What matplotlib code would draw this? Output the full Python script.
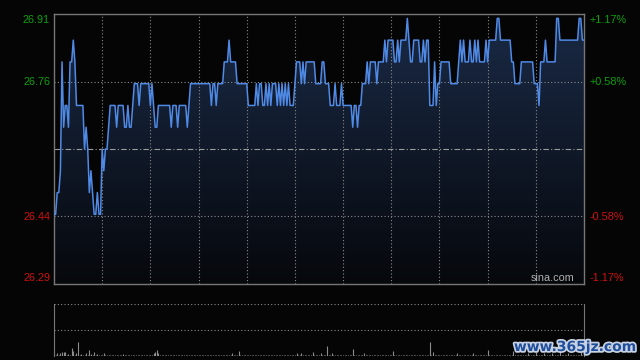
import numpy as np
import matplotlib
matplotlib.use('Agg')
import matplotlib.pyplot as plt
import matplotlib.patheffects as pe
from matplotlib.patches import Polygon
from matplotlib.colors import LinearSegmentedColormap

# intraday minute prices (HK session, 331 minutes)
prices = [
    26.45, 26.45, 26.50, 26.50, 26.55, 26.80, 26.65, 26.70, 26.70, 26.65,
    26.80, 26.80, 26.85, 26.80, 26.70, 26.70, 26.70, 26.70, 26.70, 26.60,
    26.65, 26.60, 26.50, 26.55, 26.50, 26.45, 26.45, 26.50, 26.45, 26.45,
    26.60, 26.55, 26.60, 26.60, 26.65, 26.70, 26.70, 26.70, 26.70, 26.65,
    26.70, 26.70, 26.70, 26.70, 26.65, 26.65, 26.70, 26.65, 26.65, 26.70,
    26.75, 26.75, 26.75, 26.70, 26.75, 26.75, 26.75, 26.75, 26.75, 26.75,
    26.70, 26.75, 26.70, 26.65, 26.65, 26.70, 26.70, 26.70, 26.70, 26.70,
    26.70, 26.70, 26.70, 26.65, 26.70, 26.70, 26.70, 26.65, 26.70, 26.70,
    26.70, 26.70, 26.70, 26.65, 26.70, 26.75, 26.75, 26.75, 26.75, 26.75,
    26.75, 26.75, 26.75, 26.75, 26.75, 26.75, 26.75, 26.75, 26.70, 26.75,
    26.75, 26.70, 26.75, 26.75, 26.75, 26.75, 26.80, 26.80, 26.80, 26.85,
    26.80, 26.80, 26.80, 26.80, 26.75, 26.75, 26.75, 26.75, 26.75, 26.75,
    26.75, 26.70, 26.70, 26.70, 26.70, 26.70, 26.75, 26.70, 26.75, 26.75,
    26.70, 26.70, 26.75, 26.70, 26.75, 26.70, 26.75, 26.75, 26.75, 26.70,
    26.75, 26.70, 26.75, 26.70, 26.75, 26.70, 26.75, 26.70, 26.70, 26.70,
    26.75, 26.80, 26.80, 26.80, 26.75, 26.80, 26.75, 26.80, 26.80, 26.80,
    26.80, 26.80, 26.80, 26.75, 26.75, 26.75, 26.75, 26.80, 26.80, 26.75,
    26.75, 26.75, 26.70, 26.70, 26.70, 26.75, 26.70, 26.70, 26.70, 26.75,
    26.70, 26.70, 26.70, 26.70, 26.70, 26.70, 26.65, 26.70, 26.70, 26.65,
    26.70, 26.70, 26.75, 26.75, 26.75, 26.80, 26.75, 26.80, 26.80, 26.80,
    26.80, 26.75, 26.80, 26.80, 26.80, 26.80, 26.85, 26.80, 26.85, 26.85,
    26.85, 26.85, 26.80, 26.80, 26.85, 26.80, 26.85, 26.85, 26.85, 26.85,
    26.90, 26.85, 26.80, 26.80, 26.85, 26.85, 26.85, 26.85, 26.80, 26.80,
    26.85, 26.80, 26.85, 26.85, 26.70, 26.70, 26.70, 26.80, 26.70, 26.75,
    26.75, 26.80, 26.80, 26.80, 26.80, 26.80, 26.80, 26.75, 26.75, 26.75,
    26.75, 26.75, 26.80, 26.85, 26.80, 26.85, 26.80, 26.80, 26.80, 26.85,
    26.80, 26.80, 26.85, 26.80, 26.85, 26.80, 26.80, 26.80, 26.80, 26.85,
    26.80, 26.85, 26.85, 26.85, 26.85, 26.85, 26.90, 26.90, 26.85, 26.85,
    26.85, 26.85, 26.85, 26.85, 26.85, 26.80, 26.80, 26.75, 26.75, 26.75,
    26.75, 26.80, 26.80, 26.80, 26.80, 26.80, 26.80, 26.80, 26.80, 26.75,
    26.75, 26.75, 26.70, 26.80, 26.80, 26.80, 26.85, 26.80, 26.80, 26.80,
    26.80, 26.80, 26.80, 26.90, 26.90, 26.85, 26.85, 26.85, 26.85, 26.85,
    26.85, 26.85, 26.85, 26.85, 26.85, 26.85, 26.85, 26.90, 26.90, 26.85,
    26.85,
]

# minute volumes (arbitrary units)
volumes = [
    50, 10, 23, 10, 23, 40, 40, 40, 10, 20,
    10, 77, 50, 10, 27, 140, 10, 17, 10, 10,
    27, 10, 60, 17, 10, 40, 10, 17, 10, 10,
    10, 23, 10, 10, 10, 10, 10, 10, 10, 10,
    10, 10, 10, 17, 10, 10, 10, 10, 10, 10,
    10, 10, 10, 10, 10, 10, 10, 10, 10, 10,
    10, 10, 27, 40, 60, 23, 10, 10, 10, 10,
    10, 10, 10, 10, 10, 10, 10, 10, 10, 10,
    10, 10, 10, 10, 10, 10, 10, 10, 10, 10,
    10, 10, 10, 10, 10, 10, 10, 10, 10, 10,
    10, 10, 10, 10, 10, 10, 10, 10, 10, 10,
    10, 27, 10, 10, 10, 50, 10, 10, 10, 10,
    10, 10, 10, 10, 10, 10, 10, 10, 10, 10,
    10, 10, 10, 10, 10, 10, 10, 10, 10, 10,
    10, 10, 10, 10, 10, 10, 10, 10, 10, 10,
    10, 27, 10, 10, 27, 10, 10, 10, 10, 10,
    10, 33, 10, 10, 10, 10, 23, 10, 10, 10,
    100, 10, 10, 23, 10, 10, 10, 10, 10, 10,
    10, 10, 10, 10, 10, 10, 70, 10, 10, 10,
    10, 10, 10, 23, 10, 10, 10, 10, 10, 10,
    10, 10, 10, 10, 10, 10, 10, 10, 10, 10,
    10, 50, 10, 10, 10, 10, 10, 10, 10, 10,
    10, 10, 10, 10, 10, 10, 10, 10, 10, 10,
    10, 10, 10, 10, 140, 10, 33, 10, 10, 10,
    10, 10, 10, 10, 10, 10, 10, 10, 10, 10,
    10, 23, 10, 10, 10, 10, 10, 10, 10, 10,
    10, 30, 10, 10, 10, 10, 10, 10, 10, 10,
    60, 10, 10, 10, 10, 10, 10, 10, 10, 10,
    10, 10, 10, 10, 10, 10, 50, 10, 10, 10,
    10, 10, 10, 10, 10, 30, 10, 10, 10, 10,
    40, 10, 10, 10, 10, 25, 10, 10, 10, 10,
    30, 10, 10, 10, 10, 50, 10, 10, 10, 10,
    30, 10, 10, 10, 10, 10, 10, 10, 40, 10,
    10,
]

prev_close = 26.60
y_low, y_high = 26.29, 26.91
left_ticks = [26.91, 26.76, 26.44, 26.29]
right_ticks = ['+1.17%', '+0.58%', '-0.58%', '-1.17%']
tick_colors = ['#0ca00c', '#0ca00c', '#d01010', '#d01010']
n_minutes = 330

bg = '#050505'
fig = plt.figure(figsize=(6.4, 3.6), dpi=100, facecolor=bg)
ax = fig.add_axes([54 / 640, 1 - 284 / 360, 530 / 640, 270 / 360])
ax.set_facecolor(bg)
x = np.arange(len(prices))
ax.set_xlim(0, n_minutes)
ax.set_ylim(y_low, y_high)

# gradient fill under line
cmap = LinearSegmentedColormap.from_list('fill', ['#06080c', '#1a2a46'])
grad = np.linspace(0, 1, 256).reshape(-1, 1)
im = ax.imshow(grad, extent=[0, n_minutes, y_low, y_high], origin='lower',
               aspect='auto', cmap=cmap, zorder=1)
verts = [(0, y_low)] + list(zip(x, prices)) + [(x[-1], y_low)]
poly = Polygon(verts, closed=True, facecolor='none', edgecolor='none')
ax.add_patch(poly)
im.set_clip_path(poly)

# grid
grid_col = '#8a8a8a'
for m in range(30, n_minutes, 30):
    ax.axvline(m, color=grid_col, lw=0.8, ls=(0, (1, 2)), zorder=2)
pct = 0.0058
for lvl in [prev_close * (1 + pct), prev_close * (1 - pct)]:
    ax.axhline(lvl, color=grid_col, lw=0.8, ls=(0, (1, 2)), zorder=2)
ax.axhline(prev_close, color='#9a9a9a', lw=0.8, ls=(0, (5, 2, 1, 2)), zorder=2)

ax.plot(x, prices, color='#4f8ae6', lw=1.1, zorder=3)

ax.set_xticks([])
ax.set_yticks([])
for s in ax.spines.values():
    s.set_color('#777777')
    s.set_linewidth(1.0)

# price labels (left) and percent labels (right)
label_y = [20, 82, 217, 278]
for py, v, p, c in zip(label_y, left_ticks, right_ticks, tick_colors):
    fy = 1 - py / 360
    fig.text(50 / 640, fy, f'{v:.2f}', color=c, fontsize=7.8, ha='right',
             va='center', family='Liberation Sans')
    fig.text(590 / 640, fy, p, color=c, fontsize=7.8, ha='left',
             va='center', family='Liberation Sans')

fig.text(553 / 640, 1 - 278 / 360, 'sina.com', color='#b0b0b0', fontsize=7.8,
         ha='center', va='center', family='Liberation Sans')

# volume panel
vax = fig.add_axes([54 / 640, 4.5 / 360, 530 / 640, 51.5 / 360])
vax.set_facecolor(bg)
vax.set_xlim(0, n_minutes)
vax.set_ylim(0, 515)
vax.vlines(np.arange(len(volumes)), 0, volumes, color='#8c8c8c', lw=0.8)
vax.axhline(515, color=grid_col, lw=0.8, ls=(0, (1, 2)))
vax.axhline(255, color=grid_col, lw=0.8, ls=(0, (1, 2)))
vax.set_xticks([])
vax.set_yticks([])
for k in ['top', 'bottom']:
    vax.spines[k].set_visible(False)
for k in ['left', 'right']:
    vax.spines[k].set_color('#777777')

# watermark
fig.text(575 / 640, 1 - 347 / 360, 'www.365jz.com', color='#1f4e9c',
         fontsize=10, fontweight='bold', ha='center', va='center',
         path_effects=[pe.withStroke(linewidth=2.5, foreground='#c8d2e2')])

fig.savefig('out.png', dpi=100, facecolor=bg)
